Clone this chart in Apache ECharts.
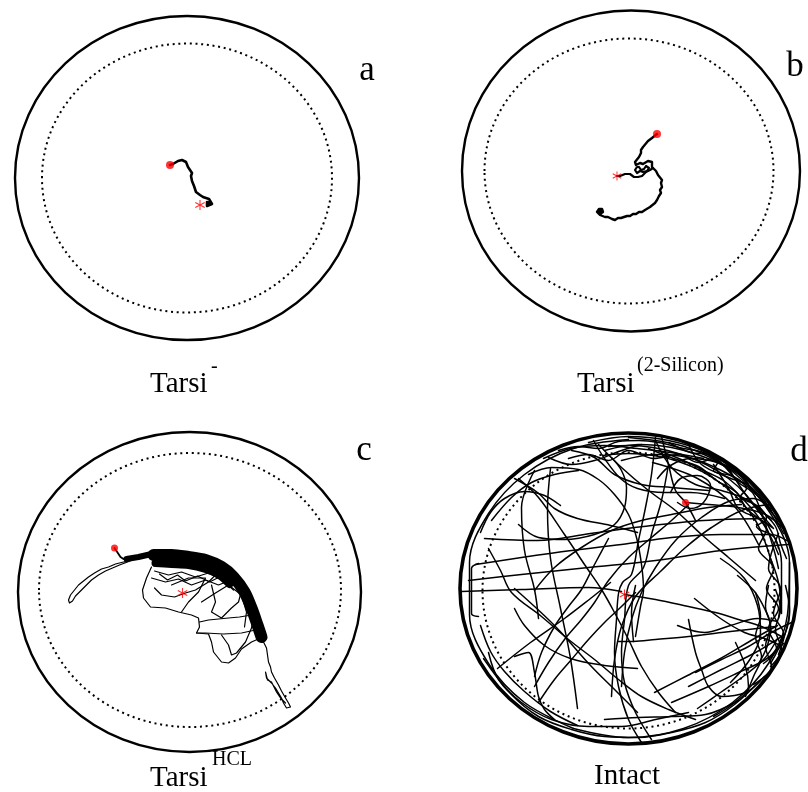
<!DOCTYPE html>
<html>
<head>
<meta charset="utf-8">
<script src="https://cdn.jsdelivr.net/npm/echarts@6/dist/echarts.min.js"></script>
<style>
  html, body { margin: 0; background: #fff; }
  #chart { width: 808px; height: 792px; }
</style>
</head>
<body>
<div id="chart"></div>
<script>
// arena coordinates: origin at the arena centre, y grows downwards (camera frame)
const panelNames = ['a', 'b', 'c', 'd'];
const panelLabels = [['Tarsi', '-'], ['Tarsi', '(2-Silicon)'], ['Tarsi', 'HCL'], ['Intact', '']];
const outerRadius = [[172, 162], [169, 160.5], [171.5, 160], [168.5, 155.5]];
const innerRadius = [[145, 134.5], [144.5, 132.5], [151, 137], [146, 138]];
const innerOffset = [[0, 0], [-2, 0], [0.5, -2], [0, 2]];

const startPoints = [[-17, -13], [26, -37], [-75, -44], [57, -86]];
const endPoints = [[13, 27], [-14, 5], [-7, 1], [-4, 6]];

// a: Tarsi-
const trackA = [[-17,-13],[-14,-14],[-12,-16],[-9,-17],[-7,-19],[-5,-18],[-3,-19],[-1,-16],[0,-14],[1,-11],[3,-8],[5,-5],[4,-2],[6,0],[5,3],[4,5],[7,8],[8,11],[9,14],[11,16],[13,17],[16,19],[19,20],[22,21],[24,23],[25,26],[23,28],[20,28],[18,26],[20,24],[23,25],[22,27]];

// b: Tarsi(2-Silicon)
const trackB = [[26,-37],[24,-35],[21,-33],[17,-30],[15,-28],[12,-24],[10,-21],[10,-18],[11,-16],[8,-14],[7,-12],[4,-9],[5,-6],[7,-5],[9,-8],[12,-7],[14,-9],[17,-10],[19,-11],[21,-9],[22,-7],[21,-4],[23,-2],[25,0],[27,4],[29,6],[31,9],[30,12],[31,16],[29,19],[30,22],[28,25],[26,29],[24,32],[22,34],[19,36],[17,38],[14,39],[11,41],[8,41],[5,43],[2,43],[-1,45],[-4,45],[-7,46],[-10,47],[-13,47],[-16,49],[-19,48],[-21,48],[-23,46],[-26,46],[-28,44],[-31,44],[-33,43],[-34,41],[-32,38],[-29,38],[-28,41],[-31,43],[-33,40],[-30,40],[-31,42]];
const trackB2 = [[-14,5],[-11,5],[-9,6],[-6,3],[-4,2],[-1,3],[1,4],[3,6],[5,7],[7,6],[9,6],[11,5],[13,3],[15,1],[17,1],[19,-1],[22,-3]];
const trackB3 = [[8,-4],[10,-1],[13,-2],[15,-5],[18,-3],[16,0],[12,1],[9,0],[6,2],[4,-1],[6,-4],[8,-4]];

// c: TarsiHCL
const startTailC = [[-75,-44],[-73,-41],[-71,-38],[-69,-35],[-66,-33],[-63,-33]];
const bandThinC = [[-63,-33],[-51,-35],[-38,-38],[-18,-38]];
const bandC = [[-36,-37],[-18,-37],[-1,-35],[16,-32],[32,-25],[44,-15],[55,0],[62,16],[68,33],[72,45]];
const bandLowC = [[-34,-29],[-18,-28],[-1,-27],[16,-23],[30,-17],[40,-8]];
const tailLeftC = [[-58,-32],[-66,-30],[-74,-28],[-81,-25],[-88,-23],[-95,-19],[-101,-15],[-106,-11],[-111,-7],[-115,-2],[-119,3],[-121,8],[-120,11],[-117,9],[-114,4],[-110,0],[-104,-6],[-98,-12],[-91,-17],[-84,-21],[-77,-24],[-70,-27],[-62,-30],[-55,-33]];
const tailBottomC = [[70,43],[74,50],[77,56],[78,63],[79,70],[81,75],[82,80],[85,86],[89,93],[92,99],[96,106],[99,111],[101,115],[97,116],[94,111],[92,106],[89,101],[86,96],[82,91],[77,86],[76,80],[78,88],[82,90],[87,100],[91,106],[96,111]];
const netC = [
  [[-38,-25],[-43,-14],[-47,-2],[-46,6],[-39,15],[-24,16],[-11,20],[2,23],[9,26],[10,35],[7,41],[19,42],[22,50],[24,60],[32,70],[39,71],[46,66],[52,57],[62,50],[71,46]],
  [[-35,-4],[-28,3],[-15,5],[-4,1],[6,-2],[19,-10],[29,-20]],
  [[7,41],[16,41],[34,42],[52,41],[66,38],[71,44]],
  [[10,30],[19,28],[39,26],[50,25],[62,23],[66,20]],
  [[32,43],[39,53],[42,63],[47,61],[56,50],[62,36],[64,25]],
  [[12,10],[26,1],[39,-7],[52,3],[57,20],[55,35]],
  [[22,-7],[26,10],[22,20],[32,26],[42,16],[49,10],[53,-5]],
  [[-18,-7],[-1,-14],[16,-14],[9,0],[-1,10],[-8,20]],
  [[-35,-21],[-21,-17],[-8,-20],[6,-15],[19,-19],[32,-12],[42,-16]],
  [[-38,-14],[-24,-10],[-11,-13],[2,-7],[16,-12],[29,-7],[39,-11],[47,-7]],
  [[-30,-18],[-22,-12],[-12,-17],[-4,-11],[8,-16],[20,-10],[30,-15],[44,-2]]
];

// d: Intact
const tracksD = [
  [[-100,-114],[-77,-121],[-50,-119],[-30,-109],[-14,-94],[0,-74],[8,-51],[13,-24],[15,1],[12,18],[7,48]],
  [[-137,-68],[-117,-91],[-97,-106],[-74,-114],[-50,-118]],
  [[-110,-64],[-90,-51],[-64,-49],[-34,-54],[-14,-64],[-4,-81],[-2,-101],[-7,-118],[-17,-131]],
  [[-110,-110],[-90,-91],[-64,-54],[-44,-24],[-27,1],[-14,24],[0,51],[13,78],[30,104],[47,124]],
  [[-153,-24],[-107,-31],[-57,-38],[-7,-44],[43,-51],[93,-54],[143,-54],[158,-48]],
  [[-160,-8],[-107,-14],[-40,-21],[27,-28],[93,-38],[160,-44]],
  [[-30,-144],[-7,-121],[20,-98],[47,-78],[73,-54],[100,-31],[127,-8]],
  [[33,-152],[40,-124],[47,-98],[57,-86],[67,-68]],
  [[57,-86],[80,-84],[110,-81],[137,-74],[155,-60]],
  [[60,-84],[43,-68],[23,-51],[0,-31],[-20,-8],[-34,14],[-47,31],[-64,51],[-80,74],[-94,98]],
  [[-94,2],[-74,-21],[-47,-41],[-17,-58],[13,-68],[43,-74],[80,-81],[113,-84]],
  [[27,-151],[23,-114],[17,-81],[10,-48],[3,-14],[-6,-6],[-10,5],[-12,31],[-14,64],[-10,98],[0,131],[13,154]],
  [[40,-124],[33,-88],[23,-54],[15,-21],[0,-3],[-4,31],[-7,64],[-4,94],[7,124],[23,151]],
  [[-10,53],[5,53],[27,51],[60,48],[93,44],[120,41],[147,38]],
  [[7,-3],[3,24],[5,53]],
  [[-7,98],[-4,64],[3,31],[13,4],[27,-21],[47,-48],[73,-71],[103,-88],[125,-90],[140,-82]],
  [[-17,108],[-14,71],[-7,38],[7,8],[33,-18],[57,-41],[83,-61],[113,-78],[140,-84]],
  [[-167,3],[-107,1],[-40,-1],[-7,3]],
  [[-150,-25],[-157,-20],[-157,25],[-150,28]],
  [[-4,6],[27,11],[60,18],[87,24],[110,31],[133,38],[153,48]],
  [[-140,-40],[-128,-18],[-117,4],[-87,28],[-60,51],[-34,71],[-10,91],[13,108],[40,121],[67,131]],
  [[-90,114],[-74,91],[-57,71],[-40,51],[-24,34],[-7,18],[7,4]],
  [[-94,88],[-87,64],[-74,38],[-60,18],[-47,1],[-34,-24],[-20,-50]],
  [[-145,70],[-118,105],[-90,128],[-57,141],[-24,148],[10,149],[43,144],[77,134],[106,116],[136,88]],
  [[-140,64],[-130,91],[-107,114],[-77,131],[-40,138],[-7,138],[27,131],[60,124]],
  [[-114,68],[-100,64],[-94,84],[-90,108],[-84,121],[-74,131]],
  [[60,98],[93,81],[127,64],[153,48]],
  [[67,84],[93,71],[120,58],[143,44],[163,34]],
  [[43,114],[80,98],[110,84],[137,71],[155,55]],
  [[60,31],[67,64],[73,81],[80,98],[93,108],[117,104],[132,92]],
  [[107,54],[117,78],[120,98],[105,115],[85,128]],
  [[-24,131],[10,129],[43,128],[77,126],[110,112]],
  [[140,-3],[137,18],[142,38],[137,58],[143,78],[125,96]],
  [[147,1],[152,21],[147,41],[153,61],[142,78]],
  [[127,4],[132,28],[127,48],[133,68],[125,88],[117,108]],
  [[157,-3],[161,22],[155,51],[150,66]],
  [[0,-151],[56,-142],[105,-116],[142,-75],[161,-26],[161,26],[142,75]],
  [[-20,-142],[0,-143],[53,-134],[100,-110],[134,-72],[153,-25],[153,25]],
  [[-26,-133],[0,-135],[50,-127],[94,-104],[127,-68],[144,-23]],
  [[24,-126],[69,-110],[106,-82],[130,-44]],
  [[-55,140],[-104,114],[-140,75],[-159,26],[-159,-26],[-140,-75],[-104,-114],[-55,-140],[0,-149]],
  [[161,-26],[159,26],[140,75],[104,114],[55,140],[0,149],[-55,140]],
  [[-24,-138],[10,-144],[43,-141],[77,-131],[110,-114],[133,-88],[153,-64]],
  [[-7,-128],[27,-134],[60,-131],[93,-118],[120,-101],[143,-78]],
  [[27,-148],[43,-121],[67,-104],[93,-98],[120,-88],[143,-68]],
  [[60,-144],[73,-124],[100,-111],[122,-102],[140,-80]],
  [[-57,-138],[-34,-131],[-14,-114],[13,-104],[43,-101],[80,-98]],
  [[-80,-131],[-57,-124],[-34,-128],[-7,-138],[13,-144]],
  [[-94,-118],[-107,-81],[-104,-38],[-94,1],[-90,30]],
  [[70,-140],[90,-128],[85,-118],[105,-112],[118,-100],[112,-92],[130,-82],[138,-70],[128,-62],[145,-52],[150,-40]],
  [[40,-146],[62,-136],[80,-134],[96,-122],[110,-106],[124,-96],[132,-80],[147,-62],[152,-45],[158,-30]],
  [[20,-140],[45,-130],[70,-122],[88,-108],[108,-96],[118,-80],[136,-64],[145,-40],[150,-20]],
  [[-144,-50],[-91,-48],[-38,-55],[15,-62],[75,-68],[136,-70]],
  [[-114,0],[-74,37],[-38,77],[-11,104],[9,124]],
  [[-131,80],[-98,54],[-64,30],[-38,10],[-18,-6]],
  [[-85,-130],[-58,-140],[-24,-143],[9,-140],[42,-136],[75,-130]],
  [[-114,-110],[-91,-96],[-74,-80],[-51,-70],[-18,-63],[9,-56]],
  [[109,-13],[126,3],[136,20],[142,37],[139,57],[129,77]],
  [[92,-30],[116,-10],[129,17],[132,44],[122,70],[102,94]],
  [[142,-30],[149,-10],[152,10],[150,30]],
  [[66,10],[92,30],[116,44],[136,50],[152,57]],
  [[49,37],[76,44],[102,37],[129,30],[149,33]],
  [[26,104],[59,87],[92,70],[126,50],[149,37]],
  [[69,120],[92,104],[116,87],[136,70],[149,50]],
  [[42,-96],[52,-110],[69,-113],[82,-103],[75,-86],[62,-80],[49,-86]],
  [[29,-110],[42,-123],[62,-130],[89,-126],[109,-116],[125,-97],[142,-80]],
  [[-35,-148],[-24,-130],[-8,-110],[9,-100],[36,-96],[62,-96],[96,-90]],
  [[-148,-56],[-138,-76],[-124,-90],[-104,-97],[-84,-93],[-68,-83]],
  [[-148,37],[-138,63],[-124,83],[-104,103],[-78,123],[-51,137]],
  [[-114,20],[-104,37],[-84,57],[-58,70],[-24,77],[9,80]],
  [[-78,-120],[-81,-80],[-78,-30],[-68,20],[-58,70],[-51,120]],
  [[-70,-138],[-50,-142],[-30,-140],[-10,-147],[10,-148],[30,-146],[55,-140],[75,-136],[95,-124],[110,-118],[120,-104]],
  [[-60,-130],[-40,-134],[-20,-128],[0,-138],[25,-130],[50,-134],[70,-126],[85,-130],[100,-118]],
  [[130,-80],[138,-60],[130,-40],[145,-20],[138,0],[150,20],[140,40],[148,60],[135,75]],
  [[-40,-146],[0,-152],[40,-148],[78,-136],[112,-114],[136,-88],[155,-55]],
  [[30,-138],[55,-128],[75,-118],[95,-108],[112,-92],[128,-74],[140,-56],[150,-34]],
  [[85,-124],[100,-100],[110,-80],[130,-70],[145,-60],[120,-90],[100,-120]],
  [[150,-55],[140,-20],[152,0],[145,25],[155,45],[140,70]]
];

const ASTERISK = 'path://M-1,-10L1,-10L1,10L-1,10Z M-8.16,-5.87L9.16,4.13L8.16,5.87L-9.16,-4.13Z M-9.16,4.13L8.16,-5.87L9.16,-4.13L-8.16,5.87Z';

const chart = echarts.init(document.getElementById('chart'));

// grid boxes = bounding box of each arena's outer wall
const grids = [
  {left: 15, top: 16, width: 344, height: 324},
  {left: 462, top: 10.5, width: 338, height: 321},
  {left: 18, top: 432, width: 343, height: 320},
  {left: 460, top: 433, width: 337, height: 311}
];

function trace(i, data, width, smooth) {
  return {
    type: 'line', xAxisIndex: i, yAxisIndex: i, data: data,
    symbol: 'none', showSymbol: false, silent: true, z: 2, smooth: smooth || false,
    lineStyle: {color: '#000', width: width, join: 'round', cap: 'round'}
  };
}

let series = [];
series.push(trace(0, trackA, 2.6));
series.push(trace(1, trackB, 2.4), trace(1, trackB2, 2.2), trace(1, trackB3, 2.2));
series.push(trace(2, startTailC, 1.8), trace(2, tailLeftC, 1.2), trace(2, tailBottomC, 1.2));
netC.forEach(function (t) { series.push(trace(2, t, 1.2)); });
series.push(trace(2, bandThinC, 6), trace(2, bandC, 12, 0.3), trace(2, bandLowC, 8, 0.3));
tracksD.forEach(function (t) { series.push(trace(3, t, 1.5, 0.35)); });

const dotSizes = [8, 8, 7, 7];
const starSizes = [10, 9, 10, 10];
panelNames.forEach(function (n, i) {
  series.push({
    type: 'scatter', xAxisIndex: i, yAxisIndex: i, data: [startPoints[i]],
    symbol: 'circle', symbolSize: dotSizes[i], itemStyle: {color: '#ff0000'}, silent: true, z: 5
  });
  series.push({
    type: 'scatter', xAxisIndex: i, yAxisIndex: i, data: [endPoints[i]],
    symbol: ASTERISK, symbolSize: starSizes[i], itemStyle: {color: '#ff0000'}, silent: true, z: 5
  });
});

chart.setOption({
  animation: false,
  backgroundColor: '#fff',
  grid: grids,
  xAxis: outerRadius.map(function (r, i) {
    return {gridIndex: i, type: 'value', min: -r[0], max: r[0], show: false};
  }),
  yAxis: outerRadius.map(function (r, i) {
    return {gridIndex: i, type: 'value', min: -r[1], max: r[1], inverse: true, show: false};
  }),
  series: series
});

// arena walls drawn from the axes scales
const wallWidth = [2.4, 2.4, 2.4, 3.6];
let graphics = [];
panelNames.forEach(function (n, i) {
  const c = chart.convertToPixel({gridIndex: i}, [0, 0]);
  const ox = chart.convertToPixel({gridIndex: i}, [outerRadius[i][0], outerRadius[i][1]]);
  const ic = chart.convertToPixel({gridIndex: i}, innerOffset[i]);
  const ix = chart.convertToPixel({gridIndex: i}, [innerOffset[i][0] + innerRadius[i][0], innerOffset[i][1] + innerRadius[i][1]]);
  graphics.push({
    type: 'ellipse', silent: true, z: 1,
    shape: {cx: c[0], cy: c[1], rx: Math.abs(ox[0] - c[0]), ry: Math.abs(ox[1] - c[1])},
    style: {fill: 'none', stroke: '#000', lineWidth: wallWidth[i]}
  });
  graphics.push({
    type: 'ellipse', silent: true, z: 1,
    shape: {cx: ic[0], cy: ic[1], rx: Math.abs(ix[0] - ic[0]), ry: Math.abs(ix[1] - ic[1])},
    style: {fill: 'none', stroke: '#000', lineWidth: 2, lineDash: [2, 3.7]}
  });
});

const serif = '"Liberation Serif", "Times New Roman", serif';
const letterPos = [[367, 71], [795, 67], [364, 451], [799, 452]];
const mainPos = [[150, 384], [577, 384], [150, 778], [594, 776]];
const supPos = [[211, 367], [637, 366], [212, 760], [0, 0]];
panelNames.forEach(function (n, i) {
  graphics.push({
    type: 'text', silent: true,
    style: {text: n, x: letterPos[i][0], y: letterPos[i][1], font: '35px ' + serif, fill: '#000', align: 'center', verticalAlign: 'middle'}
  });
  graphics.push({
    type: 'text', silent: true,
    style: {text: panelLabels[i][0], x: mainPos[i][0], y: mainPos[i][1], font: '29px ' + serif, fill: '#000', align: 'left', verticalAlign: 'middle'}
  });
  if (panelLabels[i][1]) {
    graphics.push({
      type: 'text', silent: true,
      style: {text: panelLabels[i][1], x: supPos[i][0], y: supPos[i][1], font: '20px ' + serif, fill: '#000', align: 'left', verticalAlign: 'middle'}
    });
  }
});

chart.setOption({graphic: graphics});
</script>
</body>
</html>
